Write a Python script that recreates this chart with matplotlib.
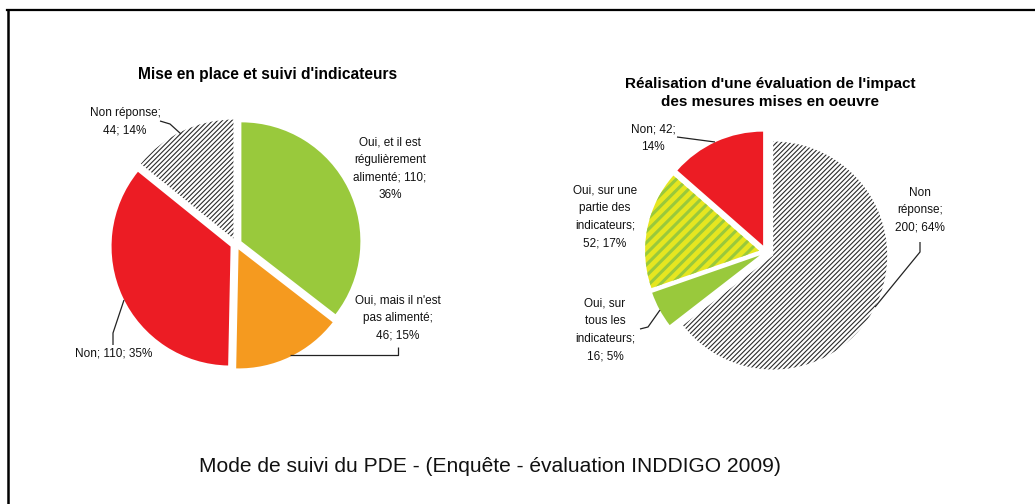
import matplotlib
matplotlib.use("Agg")
import matplotlib.pyplot as plt
from matplotlib.lines import Line2D

# ---------------- data ----------------
left_title = "Mise en place et suivi d'indicateurs"
left_labels = ["Oui, et il est\nrégulièrement\nalimenté; 110;\n36%",
               "Oui, mais il n'est\npas alimenté;\n46; 15%",
               "Non; 110; 35%",
               "Non réponse;\n44; 14%"]
left_values = [110, 46, 110, 44]

right_title = "Réalisation d'une évaluation de l'impact\ndes mesures mises en oeuvre"
right_labels = ["Non\nréponse;\n200; 64%",
                "Oui, sur\ntous les\nindicateurs;\n16; 5%",
                "Oui, sur une\npartie des\nindicateurs;\n52; 17%",
                "Non; 42;\n14%"]
right_values = [200, 16, 52, 42]

caption = "Mode de suivi du PDE - (Enquête - évaluation INDDIGO 2009)"

# ---------------- style ----------------
W, H = 1035, 504
NARROW = ['Liberation Sans Narrow', 'Liberation Sans', 'DejaVu Sans']
BOLD = ['Liberation Sans', 'DejaVu Sans']
GREEN = '#99c93c'
ORANGE = '#f59a1f'
RED = '#ec1c24'
YELLOW = '#e6e620'
HATCH_INK = '#2a2a2a'

fig = plt.figure(figsize=(W / 100, H / 100), dpi=100)
ax = fig.add_axes([0, 0, 1, 1])


def P(x, y):
    """pixel (top-left origin) -> axes data coords"""
    return x, H - y


def style_wedge(w, kind, color):
    w.set_linewidth(0)
    if kind == 'hatch':
        w.set_facecolor('white')
        w.set_edgecolor(HATCH_INK)
        w.set_hatch('///////')
        if hasattr(w, 'set_hatch_linewidth'):
            w.set_hatch_linewidth(0.8)
    elif kind == 'stripe':
        w.set_facecolor(YELLOW)
        w.set_edgecolor(GREEN)
        w.set_hatch('///')
        if hasattr(w, 'set_hatch_linewidth'):
            w.set_hatch_linewidth(2.2)
    else:
        w.set_facecolor(color)
        w.set_edgecolor(color)


# left pie (explode offsets are in data units = pixels here)
lw_, _ = ax.pie(left_values, startangle=90, counterclock=False,
                explode=[6, 6, 6, 6],
                center=P(236, 244), radius=119, frame=False)
for w, kind, c in zip(lw_, ['solid', 'solid', 'solid', 'hatch'],
                      [GREEN, ORANGE, RED, None]):
    style_wedge(w, kind, c)

# right pie
rw_, _ = ax.pie(right_values, startangle=90, counterclock=False,
                explode=[8, 7, 7, 7],
                center=P(766, 252), radius=114, frame=False)
for w, kind, c in zip(rw_, ['hatch', 'solid', 'stripe', 'solid'],
                      [None, GREEN, None, RED]):
    style_wedge(w, kind, c)

ax.set_xlim(0, W)
ax.set_ylim(0, H)
ax.set_aspect('equal')
ax.axis('off')

# titles
ax.text(*P(268, 75), left_title, ha='center', va='center',
        fontsize=11.2, fontweight='bold', family=BOLD)
ax.text(*P(770, 93), right_title, ha='center', va='center',
        fontsize=11, fontweight='bold', family=BOLD, linespacing=1.35)

lab_kw = dict(ha='center', va='center', fontsize=8.5, family=NARROW,
              linespacing=1.6, color='#111111')

# left labels
ax.text(*P(390, 169), left_labels[0], **lab_kw)
ax.text(*P(398, 318), left_labels[1], **lab_kw)
ax.text(*P(114, 353), left_labels[2], **lab_kw)
ax.text(*P(125, 122), left_labels[3], **lab_kw)

# right labels
ax.text(*P(920, 210), right_labels[0], **lab_kw)
ax.text(*P(605, 330), right_labels[1], **lab_kw)
ax.text(*P(605, 217), right_labels[2], **lab_kw)
ax.text(*P(653, 138), right_labels[3], **lab_kw)

# leader lines
def leader(pts):
    xs = [p[0] for p in pts]
    ys = [H - p[1] for p in pts]
    ax.plot(xs, ys, color='#222222', lw=0.9, solid_capstyle='butt')

leader([(160, 121), (170, 124), (181, 134)])
leader([(398, 347), (398, 355), (290, 355)])
leader([(113, 345), (113, 333), (124, 300)])
leader([(677, 137), (715, 142)])
leader([(920, 242), (920, 252), (875, 307)])
leader([(640, 329), (648, 327), (660, 310)])

# caption
ax.text(*P(490, 466), caption, ha='center', va='center',
        fontsize=15.1, family=NARROW, color='#111111')

# frame
fig.add_artist(Line2D([7 / W, 1], [1 - 8.5 / H, 1 - 8.5 / H],
                      transform=fig.transFigure, color='#9a9a9a', lw=0.8))
fig.add_artist(Line2D([7 / W, 1], [1 - 10.3 / H, 1 - 10.3 / H],
                      transform=fig.transFigure, color='black', lw=1.6))
fig.add_artist(Line2D([8 / W, 8 / W], [0, 1 - 9.5 / H],
                      transform=fig.transFigure, color='black', lw=1.8))

fig.savefig('out.png', dpi=100, facecolor='white')
